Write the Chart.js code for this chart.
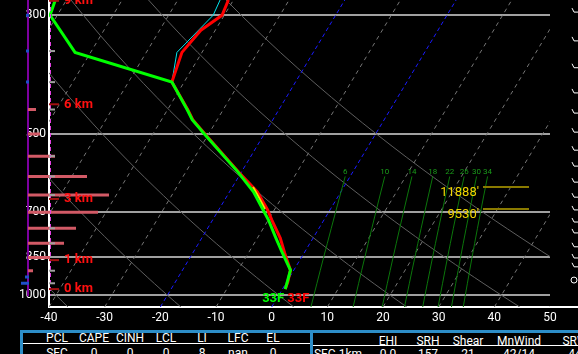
<!DOCTYPE html>
<html>
<head>
<meta charset="utf-8">
<title>Skew-T</title>
<script src="https://cdn.jsdelivr.net/npm/chart.js@4.4.1/dist/chart.umd.min.js"></script>
<style>
  html, body { margin: 0; padding: 0; background: #000; overflow: hidden; }
  #wrap { position: relative; width: 578px; height: 354px; background: #000; overflow: hidden; font-family: Roboto, sans-serif; }
  #skewt { position: absolute; left: 0; top: 0; }
  .box { position: absolute; top: 330px; height: 40px; border-top: 3px solid #2d8ec8; border-left: 3px solid #2d8ec8; box-sizing: border-box; }
  .rule { position: absolute; height: 1px; background: #fff; }
  .t { position: absolute; color: #fff; font-size: 12px; line-height: 14px; white-space: nowrap; transform: translateX(-50%); }
</style>
</head>
<body>
<div id="wrap">
  <canvas id="skewt" width="578" height="328"></canvas>
  <div class="box" style="left:20px;width:291px;"></div>
  <div class="box" style="left:310px;width:280px;"></div>
  <div class="rule" style="left:23px;width:287px;top:343px;"></div>
  <div class="rule" style="left:313px;width:265px;top:345px;"></div>
  <div id="tables"></div>
</div>
<script>
// sounding profile (hPa / deg C)
const tempPres = [974, 945, 898, 871, 834, 782, 723, 693, 641, 589, 502, 470, 451, 400, 352, 320, 300, 281];
const tempC    = [0.5, 0.2, -0.6, -1.8, -3.5, -5.9, -9.4, -11.2, -15.0, -20.5, -30.4, -34.4, -36.3, -42.2, -43.6, -42.6, -40.4, -40.9];
const dwptPres = [974, 945, 898, 834, 778, 723, 693, 641, 589, 502, 470, 451, 400, 352, 300, 281];
const dwptC    = [0.5, 0.1, -0.6, -3.9, -6.9, -10.0, -12.0, -15.7, -20.6, -30.5, -34.5, -36.4, -42.2, -62.8, -71.3, -72.0];
const wetbPres = [400, 352, 300, 281];
const wetbC    = [-42.2, -44.5, -42.0, -42.4];
const yelPres  = [628, 660, 690];
const yelC     = [-16.3, -13.9, -11.8];

// axes
const isobars = [300, 500, 700, 850, 1000];
const minorPres = [350, 400, 450, 550, 600, 650, 750, 800, 900, 950];
const blueIsotherms = [-20, 0];
const adiabatsC = [-60, -40, -20, 0, 20, 40, 60];

// left panel bars
const advPres = [450, 500, 550, 600, 650, 700, 750, 800, 850, 900];
const advVal  = [8, 12, 27, 59, 81, 70, 48, 36, 22, 5];
const omegaPres = [300, 350, 400, 925, 950];
const omegaVal  = [-2, -2, -2, -3, -7];

// heights and levels
const hgtLabels = ['0 km', '1 km', '3 km', '6 km', '9 km'];
const hgtPres   = [974, 860, 661, 440, 282];
const lvlLabels = ["11888'", "9530'"];
const lvlPres   = [628, 690];

// mixing ratio lines (g/kg)
const mixRatios = [6, 10, 14, 18, 22, 26, 30, 34];

// winds on the right edge
const windPres = [296, 335, 376, 419, 457, 496, 536, 574, 615, 656, 693, 730, 765, 812, 852, 885, 937];
const windSpd  = [25, 25, 25, 20, 15, 15, 15, 15, 10, 10, 10, 10, 10, 10, 15, 10, 0];

// table
const pclHead = ['PCL', 'CAPE', 'CINH', 'LCL', 'LI', 'LFC', 'EL'];
const pclRow  = ['SFC', '0', '0', '0', '8', 'nan', '0'];
const kinHead = ['', 'EHI', 'SRH', 'Shear', 'MnWind', 'SRW'];
const kinRow  = ['SFC-1km', '0.0', '157', '21', '42/14', '44'];

const PBOT = 1052, PTOP = 281, SKEW = 25.1;
function skewX(t, p) { return t + SKEW * Math.log(PBOT / p); }
function pts(ts, ps) { return ts.map((t, i) => ({ x: skewX(t, ps[i]), y: ps[i] })); }
function mixTd(w, p) {
    const e = w * p / (622 + w);
    const a = Math.log(e / 6.112);
    return 243.5 * a / (17.67 - a);
}

Chart.defaults.font.family = 'Roboto, sans-serif';

const datasets = [];
const line = (data, color, width, extra) => Object.assign({
    data: data, showLine: true, borderColor: color, borderWidth: width,
    pointRadius: 0, tension: 0, fill: false
}, extra || {});

// isotherms
for (let t = -120; t <= 50; t += 10) {
    const blue = blueIsotherms.includes(t);
    datasets.push(line([{ x: skewX(t, PBOT), y: PBOT }, { x: skewX(t, PTOP), y: PTOP }],
        blue ? '#1a1aff' : '#767676', 1, { borderDash: blue ? [4, 3] : [4, 4], order: 9 }));
}
// dry adiabats
const adiP = [];
for (let p = PBOT; p > PTOP; p -= 25) adiP.push(p);
adiP.push(PTOP);
adiabatsC.forEach(th => {
    datasets.push(line(adiP.map(p => ({ x: skewX((th + 273.15) * Math.pow(p / 1000, 0.2857) - 273.15, p), y: p })),
        '#5e5e5e', 1, { order: 10 }));
});
// mixing ratio lines
const mixP = [600, 650, 700, 750, 800, 850, 900, 950, 1000, PBOT];
mixRatios.forEach(w => {
    datasets.push(line(mixP.map(p => ({ x: skewX(mixTd(w, p), p), y: p })), '#0b760b', 1, { order: 8 }));
});

// left panel: purple axis, bars and blue marks
datasets.push(line([{ x: 0, y: PTOP }, { x: 0, y: 1005 }], '#7d00a0', 2, { xAxisID: 'xAdv', clip: false, order: 6 }));
const advData = [];
advPres.forEach((p, i) => { advData.push({ x: 0, y: p }, { x: advVal[i], y: p }, { x: null, y: null }); });
datasets.push(line(advData, '#d25a66', 3, { xAxisID: 'xAdv', clip: false, spanGaps: false, order: 5 }));
const omData = [];
omegaPres.forEach((p, i) => { omData.push({ x: omegaVal[i], y: p }, { x: 1, y: p }, { x: null, y: null }); });
datasets.push(line(omData, '#1e50c8', 3, { xAxisID: 'xAdv', clip: false, spanGaps: false, order: 4 }));

// profiles
datasets.push(line(pts(wetbC, wetbPres), '#00e5ee', 1, { order: 3 }));
datasets.push(line(pts(tempC, tempPres), '#ff0000', 3, { order: 2 }));
datasets.push(line(pts(yelC, yelPres), '#f0e000', 2, { order: 1.5 }));
datasets.push(line(pts(dwptC, dwptPres), '#00ff00', 3, { order: 1 }));

const overlay = {
    id: 'overlay',
    afterDraw(chart) {
        const { ctx, chartArea: a, scales } = chart;
        const X = scales.x, Y = scales.y;
        ctx.save();
        // magenta dashes on the left edge
        ctx.strokeStyle = '#e040e0'; ctx.lineWidth = 1; ctx.setLineDash([4, 3]);
        ctx.beginPath(); ctx.moveTo(a.left + 1.5, a.top); ctx.lineTo(a.left + 1.5, Y.getPixelForValue(1000)); ctx.stroke();
        ctx.setLineDash([]);
        // bottom white line continues past the plot
        ctx.strokeStyle = '#fff'; ctx.lineWidth = 2;
        ctx.beginPath(); ctx.moveTo(a.right, a.bottom); ctx.lineTo(chart.width, a.bottom); ctx.stroke();
        // minor pressure ticks
        ctx.strokeStyle = '#a0a0a0';
        minorPres.forEach(p => {
            const y = Y.getPixelForValue(p);
            ctx.beginPath(); ctx.moveTo(a.left, y); ctx.lineTo(a.left + 6, y); ctx.stroke();
        });
        // height labels
        ctx.font = 'bold 13px Roboto, sans-serif'; ctx.textBaseline = 'middle'; ctx.textAlign = 'left';
        hgtPres.forEach((p, i) => {
            const y = Y.getPixelForValue(p);
            ctx.strokeStyle = '#a01010'; ctx.lineWidth = 2;
            ctx.beginPath(); ctx.moveTo(a.left, y); ctx.lineTo(a.left + 10, y); ctx.stroke();
            ctx.fillStyle = '#ff1010';
            ctx.fillText(hgtLabels[i], a.left + 15, y);
        });
        // mixing ratio labels
        ctx.font = '8px Roboto, sans-serif'; ctx.textAlign = 'center'; ctx.fillStyle = '#1a9a1a';
        mixRatios.forEach(w => {
            ctx.fillText(String(w), X.getPixelForValue(skewX(mixTd(w, 600), 600)), Y.getPixelForValue(600) - 4);
        });
        // level annotations
        ctx.font = '13px Roboto, sans-serif'; ctx.textAlign = 'right';
        lvlPres.forEach((p, i) => {
            const y = Y.getPixelForValue(p);
            ctx.strokeStyle = '#8a7a00'; ctx.lineWidth = 2;
            ctx.beginPath(); ctx.moveTo(a.right - 67, y); ctx.lineTo(a.right - 21, y); ctx.stroke();
            ctx.fillStyle = '#f0d400';
            ctx.fillText(lvlLabels[i], a.right - 71, y + 6);
        });
        // surface temperature / dewpoint in F
        const sx = X.getPixelForValue(skewX(tempC[0], tempPres[0]));
        const sy = Y.getPixelForValue(tempPres[0]) + 10;
        ctx.font = 'bold 13px Roboto, sans-serif';
        ctx.textAlign = 'right'; ctx.fillStyle = '#00ff00';
        ctx.fillText(Math.round(dwptC[0] * 9 / 5 + 32) + 'F', sx - 1, sy);
        ctx.textAlign = 'left'; ctx.fillStyle = '#ff0000';
        ctx.fillText(Math.round(tempC[0] * 9 / 5 + 32) + 'F', sx + 2, sy);
        // wind marks at the right edge
        ctx.strokeStyle = '#fff'; ctx.lineWidth = 1;
        const wx = chart.width - 4;
        windPres.forEach((p, i) => {
            const y = Y.getPixelForValue(p);
            ctx.beginPath();
            if (windSpd[i] === 0) {
                ctx.arc(wx, y, 3, 0, Math.PI * 2);
            } else {
                ctx.moveTo(wx - 2, y - 4); ctx.lineTo(wx, y); ctx.lineTo(wx + 4, y);
            }
            ctx.stroke();
        });
        ctx.restore();
    }
};

new Chart(document.getElementById('skewt'), {
    type: 'scatter',
    data: { datasets: datasets },
    options: {
        responsive: false,
        animation: false,
        layout: { padding: { left: 0, right: 28, top: 0, bottom: 0 } },
        plugins: { legend: { display: false }, tooltip: { enabled: false } },
        scales: {
            x: {
                type: 'linear', min: -40, max: 50,
                ticks: { stepSize: 10, color: '#fff', padding: 4, font: { size: 12 } },
                grid: { display: false, drawTicks: false },
                border: { color: '#fff', width: 2 },
                afterFit: s => { s.height = 21; }
            },
            xAdv: { type: 'linear', display: false, min: 21, max: 522 },
            y: {
                type: 'logarithmic', reverse: true, min: PTOP, max: PBOT, position: 'left',
                afterBuildTicks: s => { s.ticks = isobars.map(v => ({ value: v })); },
                ticks: { color: '#fff', padding: 3, autoSkip: false, font: { size: 12 }, callback: v => String(v) },
                grid: { color: '#a0a0a0', lineWidth: 2, drawTicks: false },
                border: { color: '#fff', width: 2 },
                afterFit: s => { s.width = 49; s.paddingTop = 0; s.paddingBottom = 0; }
            }
        }
    },
    plugins: [overlay]
});

// summary tables under the diagram
const pclX = [57, 94, 130, 166, 202, 238, 273];
const kinX = [338, 388, 428, 468, 519, 575];
const tables = document.getElementById('tables');
function addText(txt, x, top) {
    const s = document.createElement('span');
    s.className = 't'; s.textContent = txt;
    s.style.left = x + 'px'; s.style.top = top + 'px';
    tables.appendChild(s);
}
pclHead.forEach((h, i) => addText(h, pclX[i], 331));
pclRow.forEach((v, i) => addText(v, pclX[i], 346));
kinHead.forEach((h, i) => addText(h, kinX[i], 334));
kinRow.forEach((v, i) => addText(v, kinX[i], 347));
</script>
</body>
</html>
